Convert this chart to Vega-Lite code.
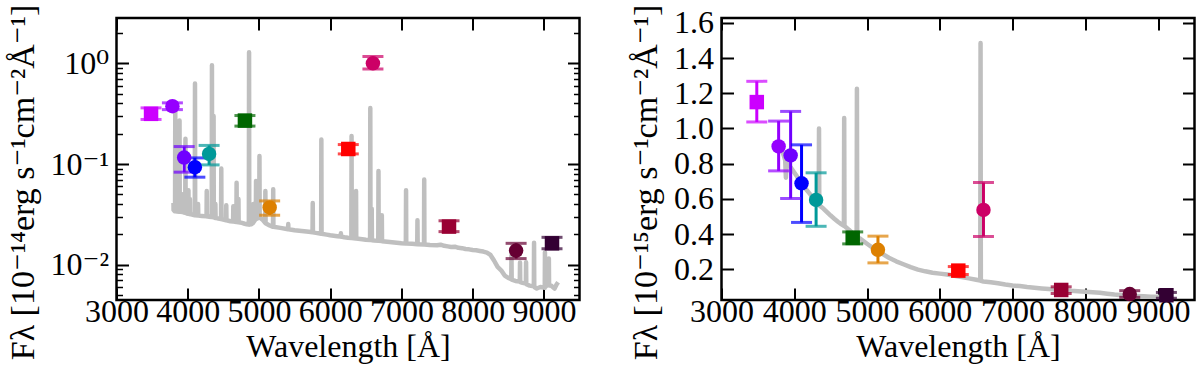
{
  "$schema": "https://vega.github.io/schema/vega-lite/v6.json",
  "padding": {"left": 4.5, "right": 5, "top": 2, "bottom": 0},
  "background": "white",
  "spacing": 45,
  "config": {
    "view": {"stroke": "black", "strokeWidth": 2.5},
    "font": "DejaVu Serif",
    "axis": {
      "domain": false, "grid": false, "tickColor": "black", "tickWidth": 2,
      "labelFont": "Liberation Serif, DejaVu Serif, serif", "labelFontSize": 32, "labelColor": "black",
      "titleFont": "Liberation Serif, DejaVu Serif, serif", "titleFontSize": 32, "titleFontWeight": "normal", "titleColor": "black",
      "labelFlush": false, "labelOverlap": false, "labelBound": false
    }
  },
  "datasets": {
    "phot": [
      {"filter": "uJAVA", "w": 3485, "type": "broad", "fL": 0.315, "loL": 0.277, "hiL": 0.361, "fR": 1.15, "loR": 1.037, "hiR": 1.268},
      {"filter": "J0378", "w": 3785, "type": "narrow", "fL": 0.375, "loL": 0.347, "hiL": 0.405, "fR": 0.898, "loR": 0.759, "hiR": 1.042},
      {"filter": "J0395", "w": 3950, "type": "narrow", "fL": 0.116, "loL": 0.083, "hiL": 0.149, "fR": 0.847, "loR": 0.602, "hiR": 1.097},
      {"filter": "J0410", "w": 4100, "type": "narrow", "fL": 0.093, "loL": 0.074, "hiL": 0.115, "fR": 0.688, "loR": 0.466, "hiR": 0.907},
      {"filter": "J0430", "w": 4300, "type": "narrow", "fL": 0.126, "loL": 0.098, "hiL": 0.153, "fR": 0.594, "loR": 0.444, "hiR": 0.748},
      {"filter": "gSDSS", "w": 4803, "type": "broad", "fL": 0.27, "loL": 0.238, "hiL": 0.303, "fR": 0.378, "loR": 0.344, "hiR": 0.412},
      {"filter": "J0515", "w": 5150, "type": "narrow", "fL": 0.037, "loL": 0.031, "hiL": 0.043, "fR": 0.31, "loR": 0.236, "hiR": 0.388},
      {"filter": "rSDSS", "w": 6254, "type": "broad", "fL": 0.141, "loL": 0.126, "hiL": 0.156, "fR": 0.192, "loR": 0.17, "hiR": 0.215},
      {"filter": "J0660", "w": 6600, "type": "narrow", "fL": 1.0, "loL": 0.878, "hiL": 1.17, "fR": 0.537, "loR": 0.386, "hiR": 0.693},
      {"filter": "iSDSS", "w": 7668, "type": "broad", "fL": 0.0239, "loL": 0.0213, "hiL": 0.0273, "fR": 0.082, "loR": 0.062, "hiR": 0.1},
      {"filter": "J0861", "w": 8610, "type": "narrow", "fL": 0.0138, "loL": 0.0115, "hiL": 0.0163, "fR": 0.059, "loR": 0.04, "hiR": 0.078},
      {"filter": "zSDSS", "w": 9114, "type": "broad", "fL": 0.0163, "loL": 0.0144, "hiL": 0.0187, "fR": 0.052, "loR": 0.035, "hiR": 0.068}
    ],
    "specL": [
      {"w":3800,"f":0.041},{"w":3801,"f":0.035},{"w":3815,"f":0.034},
      {"w":3822,"f":0.034},{"w":3825,"f":0.35},{"w":3828,"f":0.034},
      {"w":3850,"f":0.0338},
      {"w":3882,"f":0.0336},{"w":3885,"f":0.27},{"w":3888,"f":0.0336},
      {"w":3900,"f":0.0335},
      {"w":3927,"f":0.0333},{"w":3930,"f":0.05},{"w":3933,"f":0.0333},
      {"w":3950,"f":0.033},
      {"w":3965,"f":0.0328},{"w":3968,"f":0.178},{"w":3971,"f":0.0328},
      {"w":3990,"f":0.0322},
      {"w":4007,"f":0.032},{"w":4010,"f":0.055},{"w":4013,"f":0.032},
      {"w":4027,"f":0.0318},{"w":4030,"f":0.045},{"w":4033,"f":0.0318},
      {"w":4060,"f":0.0315},
      {"w":4099,"f":0.031},{"w":4102,"f":0.63},{"w":4105,"f":0.031},
      {"w":4142,"f":0.0308},{"w":4145,"f":0.04},{"w":4148,"f":0.0308},
      {"w":4200,"f":0.0305},
      {"w":4264,"f":0.0302},{"w":4267,"f":0.054},{"w":4270,"f":0.0302},
      {"w":4300,"f":0.03},
      {"w":4337,"f":0.0297},{"w":4340,"f":0.955},{"w":4343,"f":0.0297},
      {"w":4360,"f":0.0296},{"w":4363,"f":0.3},{"w":4366,"f":0.0295},
      {"w":4385,"f":0.0292},{"w":4388,"f":0.04},{"w":4391,"f":0.0292},
      {"w":4430,"f":0.0288},
      {"w":4468,"f":0.0284},{"w":4471,"f":0.09},{"w":4474,"f":0.0284},
      {"w":4500,"f":0.028},
      {"w":4538,"f":0.0276},{"w":4541,"f":0.039},{"w":4544,"f":0.0276},
      {"w":4600,"f":0.027},
      {"w":4637,"f":0.0268},{"w":4640,"f":0.038},{"w":4643,"f":0.0268},
      {"w":4683,"f":0.0266},{"w":4686,"f":0.065},{"w":4689,"f":0.0266},
      {"w":4709,"f":0.0264},{"w":4712,"f":0.045},{"w":4715,"f":0.0264},
      {"w":4760,"f":0.026},{"w":4800,"f":0.0255},{"w":4830,"f":0.0252},
      {"w":4858,"f":0.025},{"w":4861,"f":1.29},{"w":4864,"f":0.025},
      {"w":4890,"f":0.0252},
      {"w":4919,"f":0.026},{"w":4922,"f":0.04},{"w":4925,"f":0.0265},
      {"w":4956,"f":0.0285},{"w":4959,"f":0.068},{"w":4962,"f":0.0285},
      {"w":4985,"f":0.029},
      {"w":5004,"f":0.0295},{"w":5007,"f":0.12},{"w":5010,"f":0.0295},
      {"w":5050,"f":0.028},
      {"w":5087,"f":0.026},{"w":5090,"f":0.054},{"w":5093,"f":0.0258},
      {"w":5150,"f":0.0245},
      {"w":5197,"f":0.0238},{"w":5200,"f":0.056},{"w":5203,"f":0.0238},
      {"w":5300,"f":0.0232},
      {"w":5408,"f":0.0225},{"w":5411,"f":0.0253},{"w":5414,"f":0.0225},
      {"w":5500,"f":0.022},{"w":5600,"f":0.0216},{"w":5700,"f":0.0212},
      {"w":5752,"f":0.021},{"w":5755,"f":0.041},{"w":5758,"f":0.021},
      {"w":5800,"f":0.0207},
      {"w":5873,"f":0.0203},{"w":5876,"f":0.175},{"w":5879,"f":0.0203},
      {"w":5950,"f":0.0199},{"w":6000,"f":0.0196},{"w":6100,"f":0.0192},
      {"w":6147,"f":0.019},{"w":6150,"f":0.0205},{"w":6153,"f":0.019},
      {"w":6200,"f":0.0187},{"w":6250,"f":0.0185},
      {"w":6297,"f":0.0184},{"w":6300,"f":0.19},{"w":6303,"f":0.0184},
      {"w":6360,"f":0.0182},{"w":6363,"f":0.054},{"w":6366,"f":0.0182},
      {"w":6450,"f":0.0179},{"w":6500,"f":0.0177},
      {"w":6560,"f":0.0176},{"w":6563,"f":0.36},{"w":6566,"f":0.0176},
      {"w":6580,"f":0.0176},{"w":6583,"f":0.036},{"w":6586,"f":0.0175},
      {"w":6620,"f":0.0174},
      {"w":6675,"f":0.0173},{"w":6678,"f":0.085},{"w":6681,"f":0.0173},
      {"w":6722,"f":0.0172},{"w":6725,"f":0.031},{"w":6728,"f":0.0171},
      {"w":6800,"f":0.0169},{"w":6900,"f":0.0166},{"w":7000,"f":0.0163},
      {"w":7062,"f":0.0162},{"w":7065,"f":0.055},{"w":7068,"f":0.0162},
      {"w":7150,"f":0.0161},
      {"w":7222,"f":0.016},{"w":7225,"f":0.0276},{"w":7228,"f":0.016},
      {"w":7317,"f":0.0159},{"w":7320,"f":0.07},{"w":7323,"f":0.0159},
      {"w":7400,"f":0.0157},{"w":7500,"f":0.0156},{"w":7550,"f":0.0158},{"w":7600,"f":0.0154},
      {"w":7650,"f":0.0152},{"w":7700,"f":0.015},{"w":7750,"f":0.0151},{"w":7800,"f":0.0147},
      {"w":7850,"f":0.0146},{"w":7900,"f":0.0143},{"w":7950,"f":0.0142},{"w":8000,"f":0.014},
      {"w":8050,"f":0.0139},{"w":8100,"f":0.0137},{"w":8150,"f":0.0135},{"w":8200,"f":0.0132},
      {"w":8250,"f":0.0125},{"w":8300,"f":0.011},{"w":8350,"f":0.0095},{"w":8400,"f":0.0088},
      {"w":8450,"f":0.0078},{"w":8500,"f":0.0074},
      {"w":8542,"f":0.0072},{"w":8545,"f":0.0125},{"w":8548,"f":0.0071},
      {"w":8600,"f":0.0069},
      {"w":8662,"f":0.0068},{"w":8665,"f":0.0105},{"w":8668,"f":0.0067},
      {"w":8700,"f":0.0066},
      {"w":8747,"f":0.0065},{"w":8750,"f":0.0106},{"w":8753,"f":0.0064},
      {"w":8800,"f":0.0062},
      {"w":8859,"f":0.0061},{"w":8862,"f":0.0165},{"w":8865,"f":0.006},
      {"w":8900,"f":0.0058},{"w":8950,"f":0.006},
      {"w":9012,"f":0.0059},{"w":9015,"f":0.0133},{"w":9018,"f":0.006},
      {"w":9040,"f":0.0062},
      {"w":9067,"f":0.0063},{"w":9070,"f":0.0115},{"w":9073,"f":0.0062},
      {"w":9100,"f":0.0062},{"w":9150,"f":0.0058},{"w":9180,"f":0.0064},{"w":9200,"f":0.0067}
    ],
    "specR": [
      {"w":3835,"f":0.87},{"w":3860,"f":0.84},{"w":3875,"f":0.82},{"w":3885,"f":0.72},{"w":3895,"f":0.8},
      {"w":3950,"f":0.78},{"w":4000,"f":0.75},{"w":4050,"f":0.72},{"w":4100,"f":0.69},{"w":4150,"f":0.66},
      {"w":4200,"f":0.635},{"w":4250,"f":0.61},{"w":4300,"f":0.585},
      {"w":4336,"f":0.565},{"w":4340,"f":1.0},{"w":4344,"f":0.563},
      {"w":4400,"f":0.545},{"w":4450,"f":0.525},{"w":4500,"f":0.505},{"w":4550,"f":0.487},{"w":4600,"f":0.47},{"w":4650,"f":0.455},
      {"w":4682,"f":0.447},{"w":4686,"f":1.06},{"w":4690,"f":0.445},
      {"w":4750,"f":0.425},{"w":4800,"f":0.405},
      {"w":4857,"f":0.385},{"w":4861,"f":1.226},{"w":4865,"f":0.383},
      {"w":4900,"f":0.375},{"w":4950,"f":0.36},{"w":5000,"f":0.345},{"w":5100,"f":0.315},{"w":5200,"f":0.29},
      {"w":5300,"f":0.265},{"w":5400,"f":0.245},{"w":5500,"f":0.228},{"w":5600,"f":0.212},{"w":5700,"f":0.198},
      {"w":5800,"f":0.188},{"w":5900,"f":0.18},{"w":6000,"f":0.175},{"w":6100,"f":0.17},{"w":6200,"f":0.163},
      {"w":6300,"f":0.155},{"w":6400,"f":0.148},{"w":6500,"f":0.14},
      {"w":6556,"f":0.136},{"w":6560,"f":1.486},{"w":6564,"f":0.134},
      {"w":6600,"f":0.13},{"w":6700,"f":0.126},{"w":6800,"f":0.12},{"w":6900,"f":0.113},{"w":7000,"f":0.108},
      {"w":7100,"f":0.104},{"w":7200,"f":0.099},{"w":7300,"f":0.095},{"w":7400,"f":0.091},{"w":7500,"f":0.087},
      {"w":7600,"f":0.083},{"w":7700,"f":0.08},{"w":7800,"f":0.077},{"w":7900,"f":0.075},{"w":8000,"f":0.072},
      {"w":8100,"f":0.069},{"w":8200,"f":0.066},{"w":8300,"f":0.061},{"w":8400,"f":0.056},{"w":8500,"f":0.052},
      {"w":8600,"f":0.05},{"w":8700,"f":0.048},{"w":8800,"f":0.046},{"w":8900,"f":0.044},{"w":9000,"f":0.043},{"w":9080,"f":0.042}
    ]
  },
  "hconcat": [
    {
      "width": 463, "height": 282,
      "resolve": {"axis": {"x": "independent", "y": "independent"}},
      "layer": [
        {
          "data": {"name": "specL"},
          "mark": {"type": "line", "color": "#bfbfbf", "strokeWidth": 4.5, "strokeJoin": "round", "clip": true},
          "encoding": {
            "x": {"field": "w", "type": "quantitative", "scale": {"domain": [3000, 9500], "nice": false, "zero": false},
              "axis": {"orient": "bottom", "values": [3000,4000,5000,6000,7000,8000,9000], "format": "d", "tickSize": -12, "labelPadding": 8, "title": "Wavelength [Å]", "titlePadding": 4}},
            "y": {"field": "f", "type": "quantitative", "scale": {"type": "log", "domain": [0.00446, 2.82], "nice": false},
              "axis": {"orient": "left", "values": [0.01, 0.1, 1], "labelExpr": "datum.value > 0.5 ? '10⁰' : datum.value > 0.05 ? '10⁻¹' : '10⁻²'", "tickSize": -12, "labelPadding": 20, "title": "Fλ [10⁻¹⁴erg s⁻¹cm⁻²Å⁻¹]", "titleFontSize": 34, "titleY": 164, "titlePadding": 10}}
          }
        },
        {
          "data": {"name": "phot"},
          "mark": {"type": "rule", "strokeWidth": 3},
          "encoding": {
            "x": {"field": "w", "type": "quantitative", "scale": {"domain": [3000, 9500], "nice": false, "zero": false},
              "axis": {"orient": "top", "values": [3000,4000,5000,6000,7000,8000,9000], "tickSize": -12, "labels": false, "title": null}},
            "y": {"field": "loL", "type": "quantitative", "scale": {"type": "log", "domain": [0.00446, 2.82], "nice": false},
              "axis": {"orient": "right", "values": [0.01, 0.1, 1], "tickSize": -12, "labels": false, "title": null}},
            "y2": {"field": "hiL"},
            "color": {"field": "filter", "type": "nominal", "legend": null,
              "scale": {"domain": ["uJAVA","J0378","J0395","J0410","J0430","gSDSS","J0515","rSDSS","J0660","iSDSS","J0861","zSDSS"],
                        "range": ["#cc00ff","#9600ff","#7000ff","#0000ff","#009999","#006600","#dd8000","#ff0000","#cc0066","#990033","#660033","#330033"]}}
          }
        },
        {
          "data": {"name": "phot"},
          "mark": {"type": "tick", "orient": "horizontal", "size": 21, "thickness": 3},
          "encoding": {
            "x": {"field": "w", "type": "quantitative", "scale": {"domain": [3000, 9500], "nice": false, "zero": false}, "axis": null},
            "y": {"field": "loL", "type": "quantitative", "scale": {"type": "log", "domain": [0.00446, 2.82], "nice": false},
              "axis": {"orient": "left", "values": [0.005,0.006,0.007,0.008,0.009,0.02,0.03,0.04,0.05,0.06,0.07,0.08,0.09,0.2,0.3,0.4,0.5,0.6,0.7,0.8,0.9,2], "tickSize": -6, "tickWidth": 1.5, "labels": false, "title": null}},
            "color": {"field": "filter", "type": "nominal", "legend": null}
          }
        },
        {
          "data": {"name": "phot"},
          "mark": {"type": "tick", "orient": "horizontal", "size": 21, "thickness": 3},
          "encoding": {
            "x": {"field": "w", "type": "quantitative", "scale": {"domain": [3000, 9500], "nice": false, "zero": false}, "axis": null},
            "y": {"field": "hiL", "type": "quantitative", "scale": {"type": "log", "domain": [0.00446, 2.82], "nice": false},
              "axis": {"orient": "right", "values": [0.005,0.006,0.007,0.008,0.009,0.02,0.03,0.04,0.05,0.06,0.07,0.08,0.09,0.2,0.3,0.4,0.5,0.6,0.7,0.8,0.9,2], "tickSize": -6, "tickWidth": 1.5, "labels": false, "title": null}},
            "color": {"field": "filter", "type": "nominal", "legend": null}
          }
        },
        {
          "data": {"name": "phot"},
          "mark": {"type": "point", "filled": true, "opacity": 1, "size": 210, "strokeWidth": 0},
          "encoding": {
            "x": {"field": "w", "type": "quantitative", "scale": {"domain": [3000, 9500], "nice": false, "zero": false}, "axis": null},
            "y": {"field": "fL", "type": "quantitative", "scale": {"type": "log", "domain": [0.00446, 2.82], "nice": false}, "axis": null},
            "color": {"field": "filter", "type": "nominal", "legend": null},
            "shape": {"field": "type", "type": "nominal", "legend": null, "scale": {"domain": ["broad", "narrow"], "range": ["square", "circle"]}}
          }
        }
      ]
    },
    {
      "width": 473, "height": 282,
      "resolve": {"axis": {"x": "independent", "y": "independent"}},
      "layer": [
        {
          "data": {"name": "specR"},
          "mark": {"type": "line", "color": "#bfbfbf", "strokeWidth": 4.5, "strokeJoin": "round", "clip": true},
          "encoding": {
            "x": {"field": "w", "type": "quantitative", "scale": {"domain": [3000, 9500], "nice": false, "zero": false},
              "axis": {"orient": "bottom", "values": [3000,4000,5000,6000,7000,8000,9000], "format": "d", "tickSize": -12, "labelPadding": 8, "title": "Wavelength [Å]", "titlePadding": 4}},
            "y": {"field": "f", "type": "quantitative", "scale": {"domain": [0.025, 1.628], "nice": false, "zero": false},
              "axis": {"orient": "left", "values": [0.2,0.4,0.6,0.8,1.0,1.2,1.4,1.6], "format": ".1f", "tickSize": -12, "labelPadding": 20, "title": "Fλ [10⁻¹⁵erg s⁻¹cm⁻²Å⁻¹]", "titleFontSize": 34, "titleY": 164, "titlePadding": 10}}
          }
        },
        {
          "data": {"name": "phot"},
          "mark": {"type": "rule", "strokeWidth": 3},
          "encoding": {
            "x": {"field": "w", "type": "quantitative", "scale": {"domain": [3000, 9500], "nice": false, "zero": false},
              "axis": {"orient": "top", "values": [3000,4000,5000,6000,7000,8000,9000], "tickSize": -12, "labels": false, "title": null}},
            "y": {"field": "loR", "type": "quantitative", "scale": {"domain": [0.025, 1.628], "nice": false, "zero": false},
              "axis": {"orient": "right", "values": [0.2,0.4,0.6,0.8,1.0,1.2,1.4,1.6], "tickSize": -12, "labels": false, "title": null}},
            "y2": {"field": "hiR"},
            "color": {"field": "filter", "type": "nominal", "legend": null,
              "scale": {"domain": ["uJAVA","J0378","J0395","J0410","J0430","gSDSS","J0515","rSDSS","J0660","iSDSS","J0861","zSDSS"],
                        "range": ["#cc00ff","#9600ff","#7000ff","#0000ff","#009999","#006600","#dd8000","#ff0000","#cc0066","#990033","#660033","#330033"]}}
          }
        },
        {
          "data": {"name": "phot"},
          "mark": {"type": "tick", "orient": "horizontal", "size": 21, "thickness": 3},
          "encoding": {
            "x": {"field": "w", "type": "quantitative", "scale": {"domain": [3000, 9500], "nice": false, "zero": false}, "axis": null},
            "y": {"field": "loR", "type": "quantitative", "scale": {"domain": [0.025, 1.628], "nice": false, "zero": false}, "axis": null},
            "color": {"field": "filter", "type": "nominal", "legend": null}
          }
        },
        {
          "data": {"name": "phot"},
          "mark": {"type": "tick", "orient": "horizontal", "size": 21, "thickness": 3},
          "encoding": {
            "x": {"field": "w", "type": "quantitative", "scale": {"domain": [3000, 9500], "nice": false, "zero": false}, "axis": null},
            "y": {"field": "hiR", "type": "quantitative", "scale": {"domain": [0.025, 1.628], "nice": false, "zero": false}, "axis": null},
            "color": {"field": "filter", "type": "nominal", "legend": null}
          }
        },
        {
          "data": {"name": "phot"},
          "mark": {"type": "point", "filled": true, "opacity": 1, "size": 210, "strokeWidth": 0},
          "encoding": {
            "x": {"field": "w", "type": "quantitative", "scale": {"domain": [3000, 9500], "nice": false, "zero": false}, "axis": null},
            "y": {"field": "fR", "type": "quantitative", "scale": {"domain": [0.025, 1.628], "nice": false, "zero": false}, "axis": null},
            "color": {"field": "filter", "type": "nominal", "legend": null},
            "shape": {"field": "type", "type": "nominal", "legend": null, "scale": {"domain": ["broad", "narrow"], "range": ["square", "circle"]}}
          }
        }
      ]
    }
  ]
}
